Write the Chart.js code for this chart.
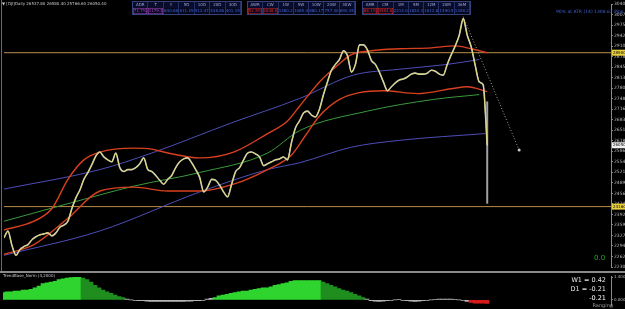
<!DOCTYPE html>
<html>
<head>
<meta charset="utf-8">
<script src="https://cdn.jsdelivr.net/npm/chart.js@4.4.1/dist/chart.umd.min.js"></script>
<style>
html,body{margin:0;padding:0;background:#000;}
#wrap{position:relative;width:625px;height:309px;overflow:hidden;background:#000;font-family:"DejaVu Sans",sans-serif;}
#main{position:absolute;left:0;top:0;}
#sub{position:absolute;left:0;top:273px;}
#sep{position:absolute;left:0;top:271px;width:625px;height:2px;background:#8a8a8a;}
.t{position:absolute;white-space:nowrap;line-height:1;}
.grp{position:absolute;top:1px;height:12px;border:1px solid #34427a;display:flex;flex-direction:column;}
.row{display:flex;height:6px;}
.row div{flex:1;font-size:4px;line-height:6px;text-align:center;overflow:hidden;}
.hd div{background:#0a0c2c;color:#9aa6d8;border-right:1px solid #22306a;}
.vl div{background:#06081e;color:#3f63d8;border-right:1px solid #22306a;}
</style>
</head>
<body>
<div id="wrap">
  <canvas id="main" width="625" height="271"></canvas>
  <div id="sep"></div>
  <canvas id="sub" width="625" height="36"></canvas>

  <div class="t" style="left:2px;top:2px;font-size:4px;color:#c8c8c8;">&#9660; [DJI]Daily  26537.80 26580.40 25766.60 26050.40</div>
  <div class="t" style="left:556px;top:10px;font-size:4.5px;color:#3f5fd0;">90% at ATR (14) 1308.67 Pips</div>
  <div class="t" style="left:594px;top:255px;font-size:7px;color:#2aa52a;">0.0</div>
  <div class="t" style="left:3px;top:274px;font-size:4px;color:#c8c8c8;">TrendBase_Norm (4,2000)</div>
  <div class="t" style="right:19px;top:277px;font-size:6.5px;color:#e8e8e8;">W1 = 0.42</div>
  <div class="t" style="right:19px;top:286px;font-size:6.5px;color:#e8e8e8;">D1 = -0.21</div>
  <div class="t" style="right:19px;top:295px;font-size:6.5px;color:#ffffff;">-0.21</div>
  <div class="t" style="right:12px;top:303px;font-size:5px;color:#9a9a9a;">Ranging</div>
</div>

<script>
// daily closes, one every 4px of the plot (index = bar)
var prices = [23200,23410,22960,22660,22840,22930,22990,23140,23230,23290,
  23320,23350,23260,23350,23530,23590,23710,24100,24430,24670,
  25000,25210,25450,25720,25840,25690,25600,25540,25810,25360,
  25240,25300,25300,25360,25480,25660,25300,25240,25120,24970,
  24850,25000,25120,25360,25540,25630,25660,25510,25300,25060,
  24610,24760,25000,24970,24820,24610,24460,24850,25240,25360,
  25600,25810,25840,25780,25690,25420,25480,25540,25600,25630,
  25690,25600,26140,26590,26800,27040,27100,26980,26920,27160,
  27610,28000,28360,28540,28690,28960,28810,28300,28540,29140,
  29140,28990,28660,28540,28300,28000,27730,27850,27970,28060,
  28090,28150,28240,28270,28240,28240,28270,28360,28330,28240,
  28210,28540,28840,29110,29440,29950,29440,29080,28510,28000,
  27910,26050];

// envelopes / averages as [bar, value]
var upperRed = [[0,23440],[7.5,23710],[12,24100],[16,25000],[20,25600],[24,25840],[32.5,25960],[37,25930],
  [41,25810],[49,25660],[57.5,25840],[66,26410],[71,26800],[74,27250],[79,28000],[83,28450],[87,28840],
  [92,28960],[99,29020],[107,29050],[113,29110],[117,29020],[121,28900]];
var lowerRed = [[0,22690],[7.5,22990],[16,23800],[24,24640],[32.5,24760],[41,24640],[49,24640],[57.5,24850],
  [66,25300],[72,25750],[75.5,26350],[79,26950],[84,27460],[89,27670],[95,27730],[103.5,27640],[112,27790],
  [116,27850],[121,27700]];
var greenMA = [[0,23710],[16,24250],[32.5,24790],[49,25210],[66,25810],[74,26500],[91,27100],[107.5,27460],[119,27610]];
var upperBlue = [[0,24700],[24,25300],[37,25810],[57,26740],[74,27490],[87.5,28210],[99,28390],[111,28540],[119,28690]];
var lowerBlue = [[0,22660],[24,23410],[49,24610],[66,25300],[74,25510],[87,25990],[99,26200],[120.5,26410]];
var trendLine = [[115,30010],[129,25900]];
var lastBar = [[121,27400],[121,24250]];
var levels = [28900, 24160];

// lower indicator, one value per bar
var trendNorm = [0.45,0.50,0.50,0.55,0.55,0.60,0.60,0.65,0.75,0.85,
  1.00,1.05,1.10,1.15,1.25,1.30,1.35,1.38,1.40,1.40,
  1.35,1.25,1.10,0.90,0.75,0.60,0.50,0.40,0.30,0.20,
  0.15,0.05,0.00,-0.03,-0.05,-0.05,-0.08,-0.10,-0.10,-0.10,
  -0.10,-0.10,-0.10,-0.10,-0.10,-0.10,-0.08,-0.08,-0.05,-0.05,
  -0.03,0.05,0.10,0.15,0.25,0.30,0.35,0.40,0.45,0.50,
  0.55,0.55,0.60,0.65,0.70,0.75,0.75,0.80,0.90,0.95,
  1.00,1.05,1.15,1.20,1.20,1.20,1.20,1.20,1.20,1.20,
  1.10,1.00,0.90,0.80,0.70,0.60,0.55,0.45,0.35,0.25,
  0.15,0.05,-0.05,-0.08,-0.10,-0.08,-0.05,-0.03,0.00,0.03,
  -0.03,-0.05,-0.08,-0.10,-0.08,-0.05,-0.03,0.00,0.03,0.05,
  0.05,0.05,0.05,0.03,0.00,-0.03,-0.10,-0.15,-0.20,-0.20,
  -0.20,-0.21];

// info tables at the top
var tables = [
  {left:132, width:108, heads:['ADR','T','Y','5D','10D','20D','30D'],
   vals:['71.7%','1179.3','840.68','611.29','512.47','448.80','401.15'], hot:2, hotColor:'#b048c8'},
  {left:247, width:107, heads:['AWR','CW','1W','5W','10W','20W','30W'],
   vals:['52.5%','2848.0','1480.2','1065.4','880.17','757.40','690.35'], hot:2, hotColor:'#e02828'},
  {left:362, width:107, heads:['AMR','CM','1M','5M','12M','20M','36M'],
   vals:['88.1%','3584.6','2214.0','1820.3','1612.8','1490.5','1388.2'], hot:2, hotColor:'#e02828'}
];

var XMAX = 152;
function xy(a){ return a.map(function(p){ return {x:p[0], y:p[1]}; }); }

tables.forEach(function(t){
  var g = document.createElement('div');
  g.className = 'grp';
  g.style.left = t.left + 'px';
  g.style.width = t.width + 'px';
  var h = '<div class="row hd">' + t.heads.map(function(s){ return '<div>'+s+'</div>'; }).join('') + '</div>';
  var v = '<div class="row vl">' + t.vals.map(function(s,i){
    return i < t.hot ? '<div style="color:'+t.hotColor+';box-shadow:inset 0 0 0 0.5px '+t.hotColor+'">'+s+'</div>' : '<div>'+s+'</div>';
  }).join('') + '</div>';
  g.innerHTML = h + v;
  document.getElementById('wrap').appendChild(g);
});

function line(data, color, w, extra){
  var d = {type:'line', data:data, borderColor:color, borderWidth:w, pointRadius:0,
    cubicInterpolationMode:'monotone', fill:false};
  for (var k in extra) d[k] = extra[k];
  return d;
}

var priceXY = prices.map(function(v,i){ return {x:i, y:v}; });

var tagPlugin = {
  id:'tags',
  afterDraw: function(chart){
    var ctx = chart.ctx, ys = chart.scales.y, x0 = chart.chartArea.right + 1;
    ctx.save();
    // left border
    ctx.strokeStyle = '#6a6a6a'; ctx.lineWidth = 1;
    ctx.beginPath(); ctx.moveTo(1.5, 0); ctx.lineTo(1.5, chart.height); ctx.stroke();
    var tags = [[levels[0], '#e8d040'], [levels[1], '#e8d040'], [prices[prices.length-1], '#f0f0f0']];
    ctx.font = '4px "DejaVu Sans"';
    ctx.textBaseline = 'middle';
    tags.forEach(function(t){
      var y = ys.getPixelForValue(t[0]);
      ctx.fillStyle = t[1];
      ctx.fillRect(x0, y - 3, 625 - x0, 6);
      ctx.fillStyle = '#000';
      ctx.fillText(t[0].toFixed(2), x0 + 1, y);
    });
    ctx.restore();
  }
};

new Chart(document.getElementById('main'), {
  type:'line',
  data:{ datasets:[
    line(priceXY, 'rgba(226,220,100,0.9)', 1, {tension:0.2, cubicInterpolationMode:'default'}),
    line(priceXY, '#c4c4c4', 1.6, {tension:0}),
    line(xy(lastBar), '#a0a0a0', 2, {}),
    line(xy(upperRed), '#d8401e', 1.4, {}),
    line(xy(lowerRed), '#d8401e', 1.4, {}),
    line(xy(greenMA), '#3c9a3c', 1, {}),
    line(xy(upperBlue), '#4e4eb8', 1, {}),
    line(xy(lowerBlue), '#4e4eb8', 1, {}),
    line(xy(trendLine), '#9aa88c', 1, {borderDash:[1,2], pointRadius:[0,1.5], pointBackgroundColor:'#c8c8c8', pointBorderWidth:0}),
    line([{x:0,y:levels[0]},{x:XMAX,y:levels[0]}], '#b88c4c', 1, {}),
    line([{x:0,y:levels[1]},{x:XMAX,y:levels[1]}], '#b88c4c', 1, {})
  ]},
  options:{
    responsive:false, animation:false, devicePixelRatio:1,
    layout:{padding:{left:3, right:0, top:0, bottom:0}},
    plugins:{legend:{display:false}, tooltip:{enabled:false}},
    scales:{
      x:{type:'linear', min:0, max:XMAX, display:false},
      y:{type:'linear', position:'right', min:22300, max:30400,
        grid:{display:true, drawOnChartArea:false, color:'#888', tickLength:2},
        border:{color:'#8a8a8a'},
        ticks:{stepSize:320, includeBounds:false, padding:1, color:'#b8b8b8',
          font:{size:4.5, family:'DejaVu Sans'},
          callback:function(v){ return Number(v).toFixed(2); }},
        afterFit:function(s){ s.width = 14; }
      }
    }
  },
  plugins:[tagPlugin]
});

new Chart(document.getElementById('sub'), {
  type:'bar',
  data:{ datasets:[{
    data: trendNorm.map(function(v,i){ return {x:i, y:v}; }),
    barPercentage:1, categoryPercentage:1, borderWidth:0,
    backgroundColor:function(c){
      var i = c.dataIndex, v = trendNorm[i], p = i ? trendNorm[i-1] : v;
      if (v <= -0.15) return '#d41a1a';
      if (v < 0.12) return '#b4b4b4';
      return v >= p ? '#2fd42f' : '#1e8e1e';
    }
  }]},
  options:{
    responsive:false, animation:false, devicePixelRatio:1,
    layout:{padding:{left:3, right:0, top:0, bottom:0}},
    plugins:{legend:{display:false}, tooltip:{enabled:false}},
    scales:{
      x:{type:'linear', min:0, max:XMAX, offset:false, display:false},
      y:{position:'right', min:-0.35, max:1.45,
        grid:{display:true, drawOnChartArea:false, color:'#888', tickLength:2},
        border:{color:'#8a8a8a'},
        ticks:{padding:1, color:'#b8b8b8', font:{size:4, family:'DejaVu Sans'},
          callback:function(v){ return Number(v).toFixed(4); }},
        afterBuildTicks:function(s){ s.ticks = [{value:1.4},{value:0}]; },
        afterFit:function(s){ s.width = 14; }
      }
    }
  }
});
</script>
</body>
</html>
